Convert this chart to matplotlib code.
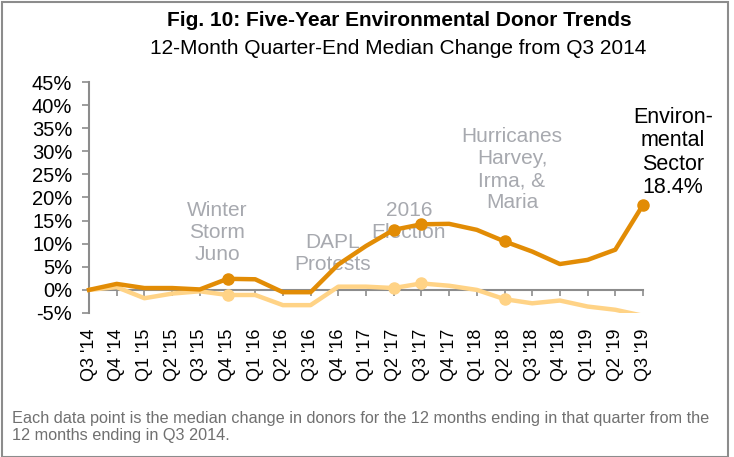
import numpy as np
import matplotlib.pyplot as plt
from matplotlib.patches import Rectangle

quarters = ["Q3 '14", "Q4 '14", "Q1 '15", "Q2 '15", "Q3 '15", "Q4 '15", "Q1 '16",
            "Q2 '16", "Q3 '16", "Q4 '16", "Q1 '17", "Q2 '17", "Q3 '17", "Q4 '17",
            "Q1 '18", "Q2 '18", "Q3 '18", "Q4 '18", "Q1 '19", "Q2 '19", "Q3 '19"]
environmental = [0.0, 1.3, 0.4, 0.4, 0.1, 2.4, 2.3, -0.5, -0.5, 5.5, 9.5, 13.0,
                 14.2, 14.3, 13.0, 10.5, 8.3, 5.6, 6.5, 8.7, 18.4]
other_sector = [0.0, 0.6, -1.8, -0.8, -0.3, -1.1, -1.1, -3.3, -3.3, 0.7, 0.7, 0.4,
                1.4, 0.9, 0.0, -2.0, -2.9, -2.3, -3.6, -4.3, -5.6]
env_marked = [5, 11, 12, 15, 20]
other_marked = [5, 11, 12, 15]

DARK = '#E28C05'
LIGHT = '#FFD386'
GRAY_TXT = '#A7A9AF'
AXIS_GRAY = '#8C8C8C'

plt.rcParams['font.family'] = ['Liberation Sans', 'DejaVu Sans']

fig = plt.figure(figsize=(7.34, 4.57), dpi=100)
ax = fig.add_axes([89 / 734, 1 - 313 / 457, (643 - 89) / 734, (313 - 82) / 457])

x = np.arange(len(quarters))

# annotations sit behind the lines
note_kw = dict(color=GRAY_TXT, fontsize=15, ha='center', va='center',
               linespacing=1.2, zorder=1)
ax.text(4.62, 12.4, 'Winter\nStorm\nJuno', **note_kw)
ax.text(8.8, 7.8, 'DAPL\nProtests', **note_kw)
ax.text(11.55, 14.8, '2016\nElection', **note_kw)
ax.text(15.27, 26.0, 'Hurricanes\nHarvey,\nIrma, &\nMaria', **note_kw)
ax.text(21.08, 29.7, 'Environ-\nmental\nSector\n18.4%', color='black', fontsize=15.5,
        ha='center', va='center', linespacing=1.15, zorder=1, clip_on=False)

ax.plot(x, other_sector, color=LIGHT, lw=3.2, solid_joinstyle='round', zorder=3)
ax.plot(x[other_marked], np.array(other_sector)[other_marked], 'o', color=LIGHT,
        ms=8, zorder=3)
ax.plot(x, environmental, color=DARK, lw=3.2, solid_joinstyle='round', zorder=4,
        clip_on=False)
ax.plot(x[env_marked], np.array(environmental)[env_marked], 'o', color=DARK,
        ms=8, zorder=4, clip_on=False)

ax.set_xlim(0, 20)
ax.set_ylim(-5, 45)
ax.set_yticks(np.arange(-5, 46, 5))
ax.set_yticklabels([f'{v}%' for v in range(-5, 46, 5)])
ax.set_xticks(x)
ax.set_xticklabels(quarters)

for s in ['top', 'right']:
    ax.spines[s].set_visible(False)
ax.spines['bottom'].set_position(('data', 0))
ax.spines['bottom'].set_color(AXIS_GRAY)
ax.spines['bottom'].set_linewidth(1.5)
ax.spines['bottom'].set_zorder(2)
ax.spines['left'].set_color(AXIS_GRAY)
ax.spines['left'].set_linewidth(1.5)
ax.tick_params(axis='y', colors=AXIS_GRAY, labelcolor='black', labelsize=14.5,
               length=5, width=1.2, pad=7)
ax.tick_params(axis='x', colors=AXIS_GRAY, labelcolor='black', labelsize=13,
               length=4, width=1.2, pad=24, labelrotation=90)
for lab in ax.get_xticklabels():
    lab.set_va('top')
    lab.set_ha('center')

fig.text(0.544, 1 - 20 / 457, 'Fig. 10: Five-Year Environmental Donor Trends',
         fontsize=15, fontweight='bold', ha='center', va='center')
fig.text(0.543, 1 - 48 / 457, '12-Month Quarter-End Median Change from Q3 2014',
         fontsize=15, ha='center', va='center')
fig.text(12 / 734, 1 - 427 / 457,
         'Each data point is the median change in donors for the 12 months ending in that quarter from the\n'
         '12 months ending in Q3 2014.',
         fontsize=11.7, color='#707070', ha='left', va='center', linespacing=1.15)

fig.patches.append(Rectangle((2 / 734, 0), 726 / 734, 1 - 1.5 / 457, transform=fig.transFigure,
                             fill=False, edgecolor='#8C8C8C', lw=1.5))

fig.savefig('out.png', dpi=100)
